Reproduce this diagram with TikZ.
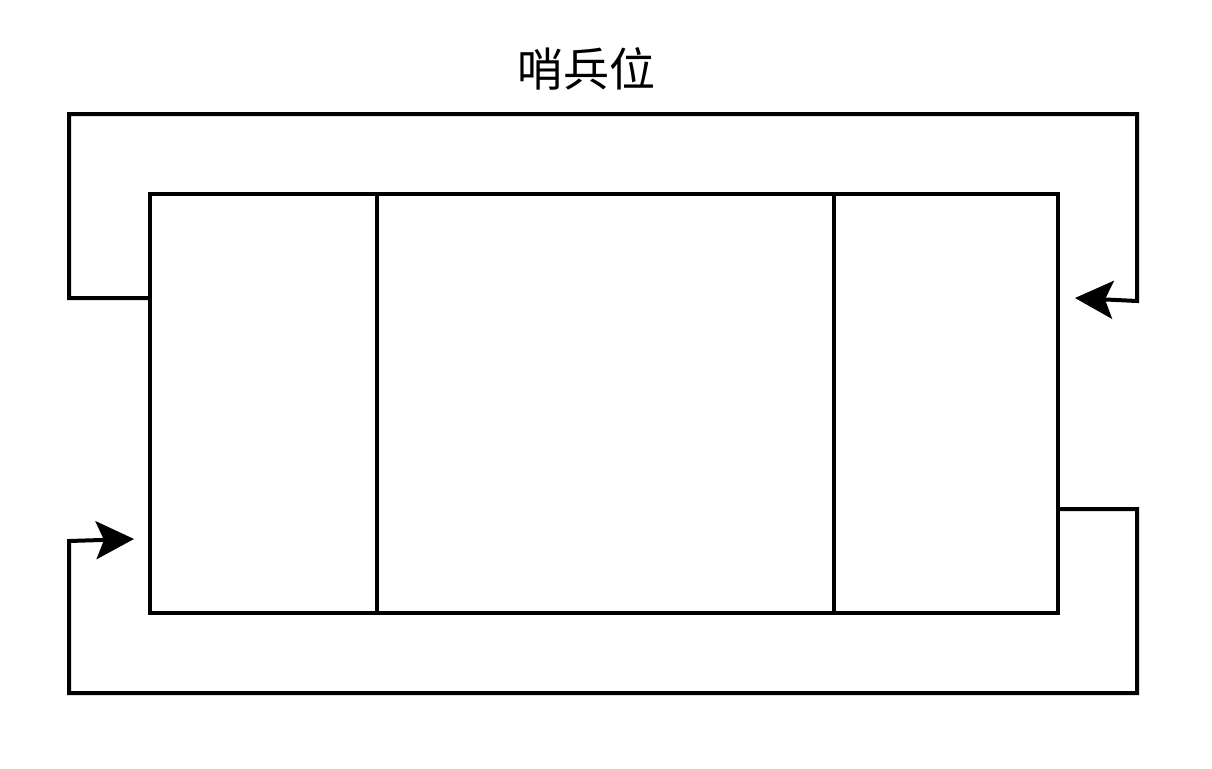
\documentclass[tikz,border=0pt]{standalone}
\usepackage{fontspec}
\newfontfamily\cjk{Noto Sans CJK SC}
\usetikzlibrary{arrows.meta,positioning}
\tikzstyle{cell}=[draw,line width=4pt,minimum height=419pt,inner sep=0pt,outer sep=0pt]
\tikzstyle{link}=[line width=4pt,-{Stealth[length=38pt,width=38pt,inset=8pt]}]

\begin{document}
\begin{tikzpicture}[x=1pt,y=-1pt]
\useasboundingbox (0,0) rectangle (1212,768);
\node (title) at (586,69) {\cjk\fontsize{46}{50}\selectfont 哨兵位};
\node [cell,minimum width=227pt,anchor=north west] (left) at (150,194) {};
\node [cell,minimum width=457pt,right=0pt of left] (middle) {};
\node [cell,minimum width=224pt,right=0pt of middle] (right) {};
\coordinate (intop) at (1075,298);
\coordinate (inbot) at (134,539);
% top loop
\draw [link] (left.west |- 0,298) -- (69,298) -- (69,114) -- (1137,114) -- (1137,301) -- (intop);
% bottom loop
\draw [link] (right.east |- 0,509) -- (1137,509) -- (1137,693) -- (69,693) -- (69,541) -- (inbot);
\end{tikzpicture}
\end{document}
